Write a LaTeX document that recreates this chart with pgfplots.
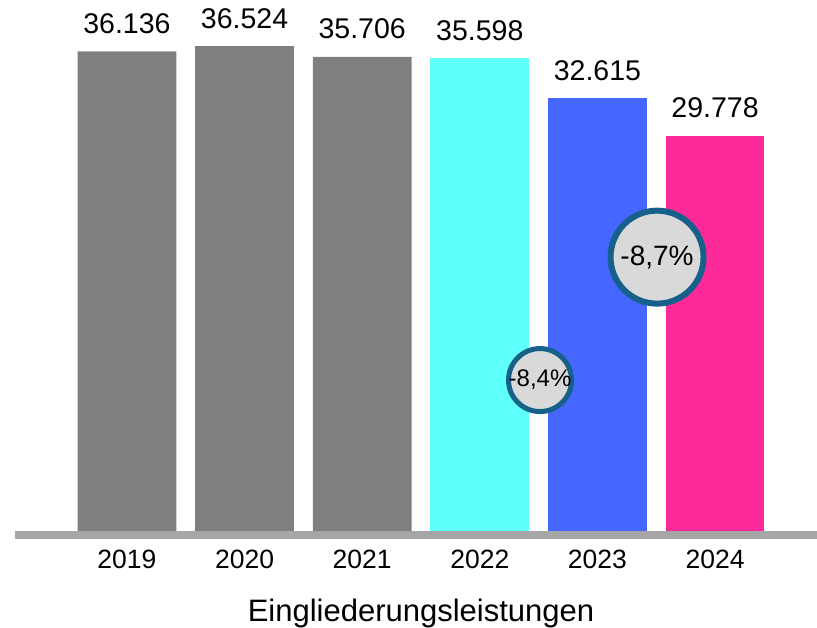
\documentclass[border=0pt]{standalone}
\usepackage{fontspec}
\setmainfont{Liberation Sans}
\usepackage{pgfplots}
\pgfplotsset{compat=1.18}
\definecolor{bargray}{HTML}{7F7F7F}
\definecolor{barcyan}{HTML}{5FFFFC}
\definecolor{barblue}{HTML}{4566FF}
\definecolor{barpink}{HTML}{FF2A9A}
\definecolor{axgray}{HTML}{A6A6A6}
\definecolor{ringblue}{HTML}{16618A}
\definecolor{ringfill}{HTML}{D9D9D9}
\begin{document}
\begin{tikzpicture}
\useasboundingbox (0,0) rectangle (817pt,627pt);
\begin{axis}[
  at={(15pt,96pt)}, anchor=south west,
  scale only axis,
  width=802pt, height=531pt,
  xmin=-0.952, xmax=5.867,
  ymin=0, ymax=40,
  axis x line=bottom, axis y line=none,
  x axis line style={draw=none},
  major tick length=0pt,
  clip=false,
  ybar, bar width=0.84, bar shift=0pt,
  xtick={0,1,2,3,4,5},
  xticklabels={2019,2020,2021,2022,2023,2024},
  xticklabel style={font=\fontsize{26.5}{30}\selectfont, anchor=base, yshift=-37pt, inner sep=0pt},
  ytick=\empty,
  /pgf/number format/assume math mode=true,
  nodes near coords={\pgfmathprintnumber[fixed,precision=3,zerofill]{\pgfplotspointmeta}},
  every node near coord/.style={font=\fontsize{28.5}{32}\selectfont, text=black, inner sep=0pt, anchor=base, yshift=18pt},
]
\addplot[fill=bargray, draw=none] coordinates {(0,36.136) (1,36.524) (2,35.706)};
\addplot[fill=barcyan, draw=none] coordinates {(3,35.598)};
\addplot[fill=barblue, draw=none] coordinates {(4,32.615)};
\addplot[fill=barpink, draw=none] coordinates {(5,29.778)};
\draw[axgray, line width=8pt] ([yshift=-4pt]axis cs:-0.952,0) -- ([yshift=-4pt]axis cs:5.867,0);
\node[font=\fontsize{31}{35}\selectfont, anchor=base, inner sep=0pt] at ([yshift=-90pt]axis cs:2.5,0) {Eingliederungsleistungen};
\draw[ringblue, line width=5pt, fill=ringfill] (axis cs:3.512,11.37) circle[radius=31.5pt];
\node[font=\fontsize{24}{28}\selectfont] at (axis cs:3.512,11.37) {-8,4\%};
\draw[ringblue, line width=6pt, fill=ringfill] (axis cs:4.507,20.63) circle[radius=46.5pt];
\node[font=\fontsize{28}{32}\selectfont] at (axis cs:4.507,20.63) {-8,7\%};
\end{axis}
\end{tikzpicture}
\end{document}
